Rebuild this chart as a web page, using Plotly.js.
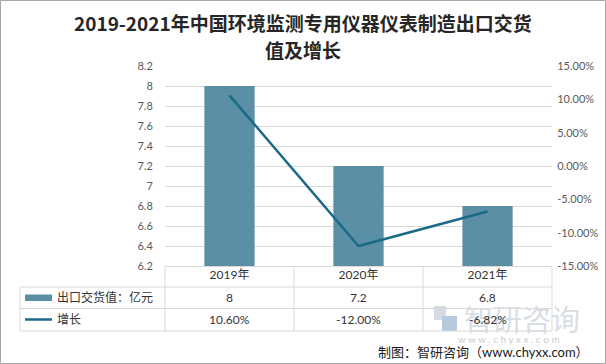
<!DOCTYPE html>
<html>
<head>
<meta charset="utf-8">
<script src="https://cdn.plot.ly/plotly-3.0.1.min.js"></script>
<style>html,body{margin:0;padding:0;background:#fff;}#chart{width:606px;height:364px;}</style>
</head>
<body>
<div id="chart"></div>
<script>
// ---- data ----
const categories = ['2019年', '2020年', '2021年'];
const exportValues = [8, 7.2, 6.8];          // 出口交货值：亿元
const growthPct = [10.60, -12.00, -6.82];     // 增长 (%)
const seriesNames = ['出口交货值：亿元', '增长'];
const leftTicks = [6.2, 6.4, 6.6, 6.8, 7, 7.2, 7.4, 7.6, 7.8, 8, 8.2];
const rightTicks = [-15, -10, -5, 0, 5, 10, 15];
const titleLines = ['2019-2021年中国环境监测专用仪器仪表制造出口交货', '值及增长'];

// ---- layout helpers (pixel -> paper) ----
const W = 606, H = 364, ML = 165, MR = 54, MT = 66, MB = 98;
const PW = W - ML - MR, PH = H - MT - MB;
const X = px => (px - ML) / PW;
const Y = py => (H - MB - py) / PH;

const barColor = '#5B8FA6';
const lineColor = '#1B6A87';
const gridColor = '#D9D9D9';
const txtColor = '#333333';
const FONT = 'Lato, "Noto Sans CJK SC", sans-serif';

const traces = [
  {
    type: 'bar', x: categories, y: exportValues, name: seriesNames[0],
    marker: {color: barColor}, yaxis: 'y', hoverinfo: 'none'
  },
  {
    type: 'scatter', mode: 'lines', x: categories, y: growthPct, name: seriesNames[1],
    line: {color: lineColor, width: 2.5}, yaxis: 'y2', hoverinfo: 'none'
  }
];

const shapes = [];
const hl = (x0, x1, y) => shapes.push({type: 'line', xref: 'paper', yref: 'paper', x0: X(x0), x1: X(x1), y0: Y(y), y1: Y(y), line: {color: gridColor, width: 1}, layer: 'above'});
const vl = (x, y0, y1) => shapes.push({type: 'line', xref: 'paper', yref: 'paper', x0: X(x), x1: X(x), y0: Y(y0), y1: Y(y1), line: {color: gridColor, width: 1}, layer: 'above'});
// table grid
hl(165, 552, 266.5);
hl(20, 552, 287);
hl(20, 552, 308.5);
hl(20, 552, 331);
vl(20, 287, 331);
vl(165, 266.5, 331);
vl(294, 266.5, 331);
vl(423, 266.5, 331);
vl(552, 266.5, 331);
// legend keys inside table
shapes.push({type: 'rect', xref: 'paper', yref: 'paper', x0: X(25), x1: X(52), y0: Y(294.5), y1: Y(301), fillcolor: barColor, line: {width: 0}});
shapes.push({type: 'line', xref: 'paper', yref: 'paper', x0: X(25), x1: X(52), y0: Y(319.5), y1: Y(319.5), line: {color: lineColor, width: 2.5}});
// watermark logo (approx)
shapes.push({type: 'rect', xref: 'paper', yref: 'paper', x0: X(434), x1: X(446), y0: Y(306), y1: Y(320), fillcolor: '#D3DBE4', line: {width: 0}, layer: 'below'});
shapes.push({type: 'rect', xref: 'paper', yref: 'paper', x0: X(442), x1: X(457), y0: Y(316), y1: Y(331), fillcolor: '#B6C9DD', line: {width: 0}, layer: 'below'});
// outer frame
shapes.push({type: 'rect', xref: 'paper', yref: 'paper', x0: X(0.5), x1: X(605.5), y0: Y(0.5), y1: Y(363.5), line: {color: '#A6A6A6', width: 1}, fillcolor: 'rgba(0,0,0,0)'});

const annotations = [];
// title (two lines)
annotations.push({xref: 'paper', yref: 'paper', x: X(303), y: Y(23), text: '<b>' + titleLines[0] + '</b>', showarrow: false, font: {family: '"Noto Sans CJK SC", sans-serif', size: 19, color: '#262626'}, xanchor: 'center', yanchor: 'middle'});
annotations.push({xref: 'paper', yref: 'paper', x: X(303), y: Y(50), text: '<b>' + titleLines[1] + '</b>', showarrow: false, font: {family: '"Noto Sans CJK SC", sans-serif', size: 19, color: '#262626'}, xanchor: 'center', yanchor: 'middle'});
// watermark
annotations.push({xref: 'paper', yref: 'paper', x: X(522), y: Y(318), text: '智研咨询', showarrow: false, font: {family: '"Noto Sans CJK SC", sans-serif', size: 29, color: '#D9DEE4'}, xanchor: 'center', yanchor: 'middle'});
annotations.push({xref: 'paper', yref: 'paper', x: X(509), y: Y(339), text: 'w w w . c h y x x . c o m', showarrow: false, font: {family: FONT, size: 10, color: '#C8CCD0'}, xanchor: 'center', yanchor: 'middle'});
// row labels
annotations.push({xref: 'paper', yref: 'paper', x: X(55), y: Y(297.5), text: seriesNames[0], showarrow: false, font: {family: FONT, size: 12, color: txtColor}, xanchor: 'left', yanchor: 'middle'});
annotations.push({xref: 'paper', yref: 'paper', x: X(55), y: Y(319.5), text: seriesNames[1], showarrow: false, font: {family: FONT, size: 12, color: txtColor}, xanchor: 'left', yanchor: 'middle'});
// table values
categories.forEach((c, i) => {
  annotations.push({xref: 'x', yref: 'paper', x: c, y: Y(297.5), text: String(exportValues[i]), showarrow: false, font: {family: FONT, size: 12, color: txtColor}, xanchor: 'center', yanchor: 'middle'});
  annotations.push({xref: 'x', yref: 'paper', x: c, y: Y(319.5), text: growthPct[i].toFixed(2) + '%', showarrow: false, font: {family: FONT, size: 12, color: txtColor}, xanchor: 'center', yanchor: 'middle'});
});
// source
annotations.push({xref: 'paper', yref: 'paper', x: X(591), y: Y(352), text: '制图：智研咨询（www.chyxx.com）', showarrow: false, font: {family: FONT, size: 13, color: '#1A1A1A'}, xanchor: 'right', yanchor: 'middle'});

const layout = {
  width: W, height: H,
  margin: {l: ML, r: MR, t: MT, b: MB, pad: 0},
  paper_bgcolor: '#fff', plot_bgcolor: '#fff',
  showlegend: false,
  bargap: 0.61,
  xaxis: {
    type: 'category', range: [-0.5, 2.5], showgrid: false, zeroline: false, showline: false,
    ticks: '', tickfont: {family: FONT, size: 12, color: txtColor}, fixedrange: true
  },
  yaxis: {
    range: [6.2, 8.2], tickvals: leftTicks, ticktext: leftTicks.map(v => String(v)),
    showgrid: true, gridcolor: gridColor, gridwidth: 1, zeroline: false, showline: false,
    ticks: 'outside', ticklen: 9, tickcolor: 'rgba(0,0,0,0)',
    tickfont: {family: FONT, size: 11, color: '#595959'}
  },
  yaxis2: {
    overlaying: 'y', side: 'right', range: [-15, 15], tickvals: rightTicks,
    ticktext: rightTicks.map(v => v.toFixed(2) + '%'),
    showgrid: false, zeroline: false, showline: false,
    ticks: 'outside', ticklen: 2, tickcolor: 'rgba(0,0,0,0)',
    tickfont: {family: FONT, size: 11, color: '#595959'}
  },
  shapes: shapes,
  annotations: annotations
};

Plotly.newPlot('chart', traces, layout, {displayModeBar: false, staticPlot: true});
</script>
</body>
</html>
